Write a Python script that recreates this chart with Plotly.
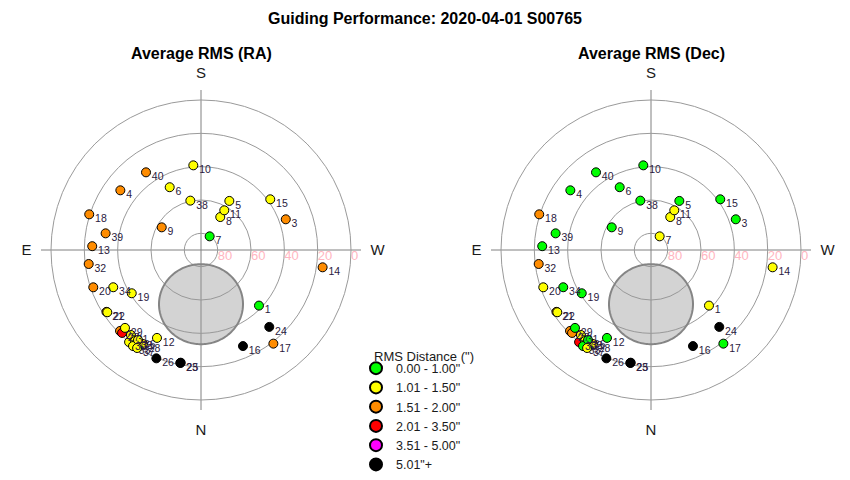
import numpy as np
import plotly.graph_objects as go

# ---------------- data ----------------
point_labels = [str(i) for i in range(1, 41)]
azimuth = [313.8, 45.0, 250.1, 126.5, 210.0, 153.5, 212.4, 210.3, 120.0, 174.8,
           210.4, 26.6, 92.0, 278.1, 233.8, 336.4, 322.3, 107.7, 58.0, 70.9,
           56.8, 56.4, 10.4, 318.4, 10.2, 22.4, 43.6, 31.7, 44.3, 38.0,
           39.5, 82.9, 35.9, 67.0, 35.3, 35.0, 33.1, 167.8, 99.9, 144.7]
altitude = [41.8, 21.3, 35.9, 29.8, 56.0, 47.9, 80.3, 67.1, 62.8, 39.0,
            62.4, 31.0, 24.7, 16.3, 38.5, 27.1, 19.0, 19.6, 41.0, 21.6,
            22.2, 22.5, 21.1, 28.3, 21.3, 19.7, 21.3, 23.7, 24.7, 19.9,
            23.9, 22.1, 22.6, 32.8, 19.4, 24.1, 19.8, 59.7, 31.9, 32.9]
# RMS class index per point (0..5)
ra_class = [0, 2, 2, 2, 1, 1, 0, 1, 2, 1,
            1, 1, 2, 2, 1, 5, 2, 2, 1, 2,
            2, 1, 5, 5, 5, 5, 3, 1, 1, 1,
            1, 2, 1, 1, 1, 1, 1, 1, 2, 2]
dec_class = [1, 2, 0, 0, 0, 0, 1, 1, 0, 0,
             1, 0, 0, 1, 0, 5, 0, 2, 0, 1,
             2, 1, 5, 5, 5, 5, 2, 1, 0, 3,
             1, 2, 1, 0, 0, 0, 1, 0, 0, 0]
class_labels = ['0.00 - 1.00"', '1.01 - 1.50"', '1.51 - 2.00"',
                '2.01 - 3.50"', '3.51 - 5.00"', '5.01"+']
class_colors = ['#00FF00', '#FFFF00', '#FF8C00', '#FF0000', '#FF00FF', '#000000']
ring_ticks = [80, 60, 40, 20, 0]
compass_az = [0, 90, 180, 270]
compass_labels = ['N', 'E', 'S', 'W']
# excluded (moon) region: centre alt/az and half-widths in degrees
moon_alt, moon_az, moon_rx, moon_ry = 57.5, 0.0, 25.2, 24.0

# ---------------- helpers ----------------
t = np.linspace(0, 2 * np.pi, 181)
zd0 = 90 - moon_alt
n0 = zd0 * np.cos(np.radians(moon_az))
e0 = zd0 * np.sin(np.radians(moon_az))
e = e0 + moon_rx * np.cos(t)
n = n0 + moon_ry * np.sin(t)
moon_r = 90 - np.hypot(e, n)
moon_theta = np.degrees(np.arctan2(e, n)) % 360

FONT = "Liberation Sans, Arial, sans-serif"
W, H = 850, 480
OFF = 8  # page body margin offset
PAD = "\u00a0\u00a0"


def xp(px):
    return (px - OFF) / W


def yp(py):
    return 1 - (py - OFF) / H


fig = go.Figure()

for pname, classes in [("polar", ra_class), ("polar2", dec_class)]:
    fig.add_trace(go.Scatterpolar(
        r=moon_r, theta=moon_theta, mode="lines", fill="toself",
        fillcolor="rgba(150,150,150,0.42)", line=dict(color="#858585", width=2),
        subplot=pname, showlegend=False, hoverinfo="skip"))
    fig.add_trace(go.Scatterpolar(
        r=ring_ticks, theta=[270] * len(ring_ticks), mode="text",
        text=[str(v) for v in ring_ticks], textposition="bottom right",
        textfont=dict(family=FONT, size=13, color="#FFB6C1"),
        subplot=pname, showlegend=False, hoverinfo="skip", cliponaxis=False))
    fig.add_trace(go.Scatterpolar(
        r=altitude, theta=azimuth, mode="markers",
        marker=dict(size=9, color=[class_colors[c] for c in classes],
                    line=dict(color="black", width=1)),
        text=point_labels, hoverinfo="text+r+theta",
        subplot=pname, showlegend=False, cliponaxis=False))
    fig.add_trace(go.Scatterpolar(
        r=altitude, theta=azimuth, mode="text",
        text=[PAD + s for s in point_labels], textposition="bottom right",
        textfont=dict(family=FONT, size=10.5, color="#2a1a40"),
        subplot=pname, showlegend=False, hoverinfo="skip", cliponaxis=False))

for lab, col in zip(class_labels, class_colors):
    fig.add_trace(go.Scatterpolar(
        r=[None], theta=[None], mode="markers", name=lab,
        marker=dict(size=9, color=col, line=dict(color="black", width=1)),
        subplot="polar", showlegend=True))

R = 160


def dom(cx, cy):
    return dict(x=[xp(cx - R), xp(cx + R)], y=[yp(cy + R), yp(cy - R)])


polar_common = dict(
    bgcolor="white",
    radialaxis=dict(range=[90, -6], tickvals=ring_ticks, showticklabels=False,
                    ticks="", showline=False, gridcolor="#9a9a9a", gridwidth=1,
                    layer="below traces", angle=0),
    angularaxis=dict(rotation=270, direction="clockwise", tickmode="array",
                     tickvals=compass_az, ticktext=compass_labels,
                     ticks="outside", ticklen=6, tickcolor="rgba(0,0,0,0)",
                     showline=False, gridcolor="#808080", gridwidth=1,
                     layer="below traces",
                     tickfont=dict(family=FONT, size=15, color="#1a1a1a")),
)
fig.update_layout(
    width=W, height=H, margin=dict(l=0, r=0, t=0, b=0, autoexpand=False),
    paper_bgcolor="white", plot_bgcolor="white",
    polar=dict(domain=dom(201, 250), **polar_common),
    polar2=dict(domain=dom(651, 250), **polar_common),
    showlegend=True,
    legend=dict(x=xp(356), y=yp(353.5), xanchor="left", yanchor="top",
                font=dict(family=FONT, size=12.5, color="#1a1a1a"),
                bgcolor="rgba(0,0,0,0)", itemsizing="constant"),
    annotations=[
        dict(text="<b>Guiding Performance: 2020-04-01 S00765</b>", x=xp(425), y=yp(18),
             xref="paper", yref="paper", showarrow=False, xanchor="center", yanchor="middle",
             font=dict(family=FONT, size=16, color="black")),
        dict(text="<b>Average RMS (RA)</b>", x=xp(201), y=yp(53),
             xref="paper", yref="paper", showarrow=False, xanchor="center", yanchor="middle",
             font=dict(family=FONT, size=16, color="black")),
        dict(text="<b>Average RMS (Dec)</b>", x=xp(651), y=yp(53),
             xref="paper", yref="paper", showarrow=False, xanchor="center", yanchor="middle",
             font=dict(family=FONT, size=16, color="black")),
        dict(text='RMS Distance (")', x=xp(424), y=yp(356),
             xref="paper", yref="paper", showarrow=False, xanchor="center", yanchor="middle",
             font=dict(family=FONT, size=13, color="#1a1a1a")),
    ],
)
fig.write_html("out.html")
